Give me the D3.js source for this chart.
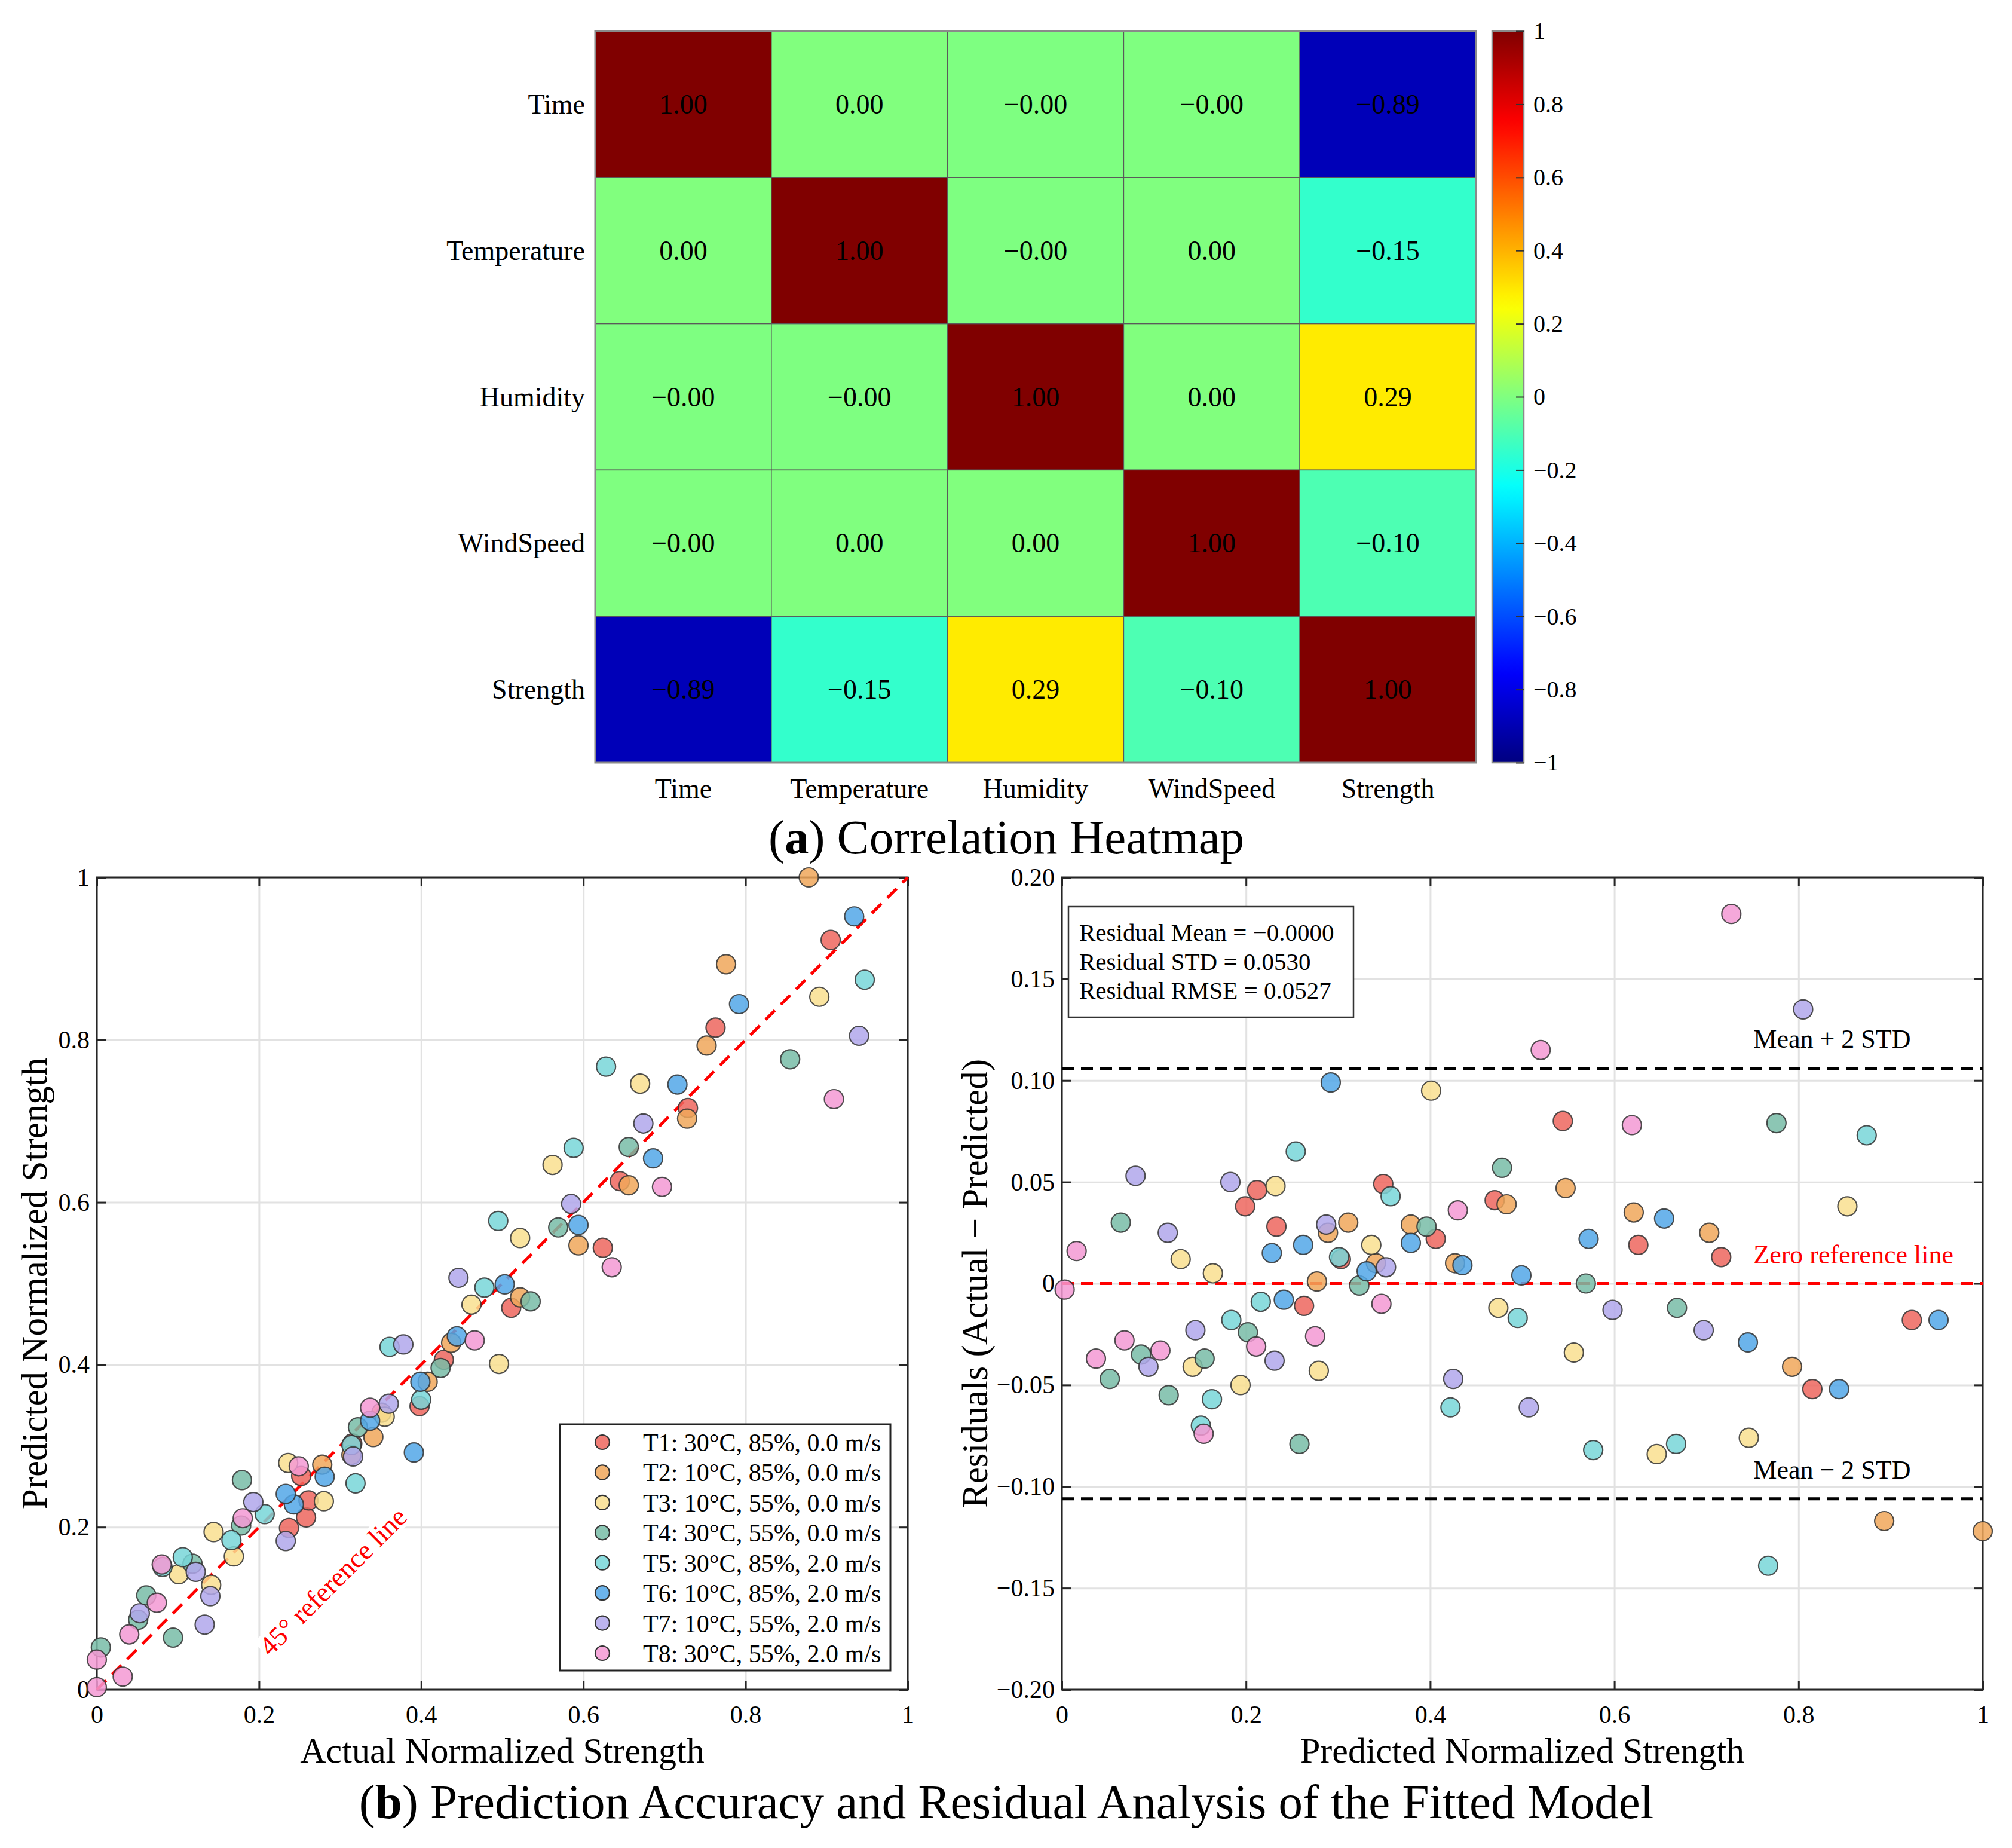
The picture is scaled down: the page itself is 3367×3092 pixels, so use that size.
<!DOCTYPE html>
<html>
<head>
<meta charset="utf-8">
<script src="https://cdn.jsdelivr.net/npm/d3@7"></script>
<style>
  body { margin: 0; background: #fff; }
  text { font-family: "Liberation Serif", "Times New Roman", serif; }
</style>
</head>
<body>
<svg id="chart" width="3367" height="3092"></svg>
<script>
const WIDTH = 3367
const HEIGHT = 3092
const FONT = '"Liberation Serif", "Times New Roman", serif'

// ---- (a) correlation heatmap ----
const variables = ['Time', 'Temperature', 'Humidity', 'WindSpeed', 'Strength']
const corrTime = [1, 0.002, -0.002, -0.001, -0.89]
const corrTemperature = [0.002, 1, -0.003, 0.001, -0.15]
const corrHumidity = [-0.002, -0.003, 1, 0.002, 0.29]
const corrWindSpeed = [-0.001, 0.001, 0.002, 1, -0.10]
const corrStrength = [-0.89, -0.15, 0.29, -0.10, 1]
const colorbarTicks = [1, 0.8, 0.6, 0.4, 0.2, 0, -0.2, -0.4, -0.6, -0.8, -1]

// ---- (b) test groups: actual vs predicted normalized strength ----
const groupLabels = [
    'T1: 30°C, 85%, 0.0 m/s', 'T2: 10°C, 85%, 0.0 m/s', 'T3: 10°C, 55%, 0.0 m/s', 'T4: 30°C, 55%, 0.0 m/s',
    'T5: 30°C, 85%, 2.0 m/s', 'T6: 10°C, 85%, 2.0 m/s', 'T7: 10°C, 55%, 2.0 m/s', 'T8: 30°C, 55%, 2.0 m/s'
]
const actualT1 = [0.624, 0.258, 0.398, 0.237, 0.511, 0.261, 0.428, 0.645, 0.315, 0.729, 0.252, 0.905, 0.763]
const predictedT1 = [0.544, 0.212, 0.349, 0.199, 0.470, 0.233, 0.406, 0.626, 0.303, 0.716, 0.263, 0.923, 0.815]
const actualT2 = [0.594, 0.522, 0.656, 0.341, 0.314, 0.408, 0.728, 0.351, 0.437, 0.278, 0.752, 0.776, 0.878]
const predictedT2 = [0.547, 0.483, 0.621, 0.311, 0.289, 0.379, 0.703, 0.341, 0.427, 0.277, 0.793, 0.893, 1.000]
const actualT3 = [0.496, 0.280, 0.891, 0.355, 0.141, 0.169, 0.462, 0.522, 0.101, 0.236, 0.144, 0.670, 0.562]
const predictedT3 = [0.401, 0.232, 0.853, 0.336, 0.129, 0.164, 0.474, 0.556, 0.142, 0.279, 0.194, 0.746, 0.646]
const actualT4 = [0.855, 0.535, 0.094, 0.424, 0.322, 0.569, 0.656, 0.178, 0.051, 0.118, 0.005, 0.061, 0.179]
const predictedT4 = [0.776, 0.478, 0.064, 0.396, 0.323, 0.569, 0.668, 0.202, 0.086, 0.155, 0.052, 0.116, 0.258]
const actualT5 = [0.947, 0.319, 0.400, 0.314, 0.478, 0.166, 0.207, 0.106, 0.361, 0.081, 0.588, 0.495, 0.628]
const predictedT5 = [0.874, 0.254, 0.357, 0.301, 0.495, 0.184, 0.216, 0.163, 0.422, 0.151, 0.667, 0.577, 0.767]
const actualT6 = [0.391, 0.686, 0.594, 0.399, 0.281, 0.243, 0.444, 0.337, 0.503, 0.934, 0.233, 0.716, 0.792]
const predictedT6 = [0.292, 0.654, 0.572, 0.379, 0.262, 0.228, 0.435, 0.331, 0.499, 0.952, 0.241, 0.745, 0.844]
const actualT7 = [0.940, 0.133, 0.233, 0.316, 0.140, 0.360, 0.585, 0.122, 0.674, 0.193, 0.053, 0.378, 0.446]
const predictedT7 = [0.805, 0.080, 0.183, 0.287, 0.115, 0.352, 0.598, 0.145, 0.697, 0.231, 0.094, 0.425, 0.507]
const actualT8 = [0.909, 0.635, 0.697, 0.466, 0.032, 0.000, 0.337, 0.249, 0.040, 0.180, 0.074, 0.000, 0.080]
const predictedT8 = [0.727, 0.520, 0.619, 0.430, 0.016, 0.003, 0.347, 0.275, 0.068, 0.211, 0.107, 0.037, 0.154]

const residMean = -0.00001
const residStd = 0.0530
const residRmse = 0.0527

const unitTicks = [0, 0.2, 0.4, 0.6, 0.8, 1]
const residTicks = [-0.2, -0.15, -0.1, -0.05, 0, 0.05, 0.1, 0.15, 0.2]

const groupColors = ['#ed665e', '#f0a75a', '#f9df8f', '#78bca7', '#78d6d8', '#52a7e7', '#b0a7eb', '#f399d4']

const signed = (v, n) => (v < 0 ? '\u2212' : '') + Math.abs(v).toFixed(n)

const svg = d3.select('#chart')
svg.append('rect').attr('width', WIDTH).attr('height', HEIGHT).attr('fill', '#fff')

// MATLAB jet
function jet(t) {
    const c = v => Math.round(255 * Math.max(0, Math.min(1, v)))
    return `rgb(${c(1.5 - Math.abs(4 * t - 3))},${c(1.5 - Math.abs(4 * t - 2))},${c(1.5 - Math.abs(4 * t - 1))})`
}

function drawHeatmap() {
    const rows = [corrTime, corrTemperature, corrHumidity, corrWindSpeed, corrStrength]
    const cells = []
    rows.forEach((row, i) => row.forEach((v, j) => cells.push({ r: variables[i], c: variables[j], v })))

    const x = d3.scaleBand().domain(variables).range([996, 2470])
    const y = d3.scaleBand().domain(variables).range([52, 1276])
    const color = d3.scaleSequential(jet).domain([-1, 1])

    const g = svg.append('g')
    g.selectAll('rect.cell')
        .data(cells)
        .join('rect')
        .attr('class', 'cell')
        .attr('x', d => x(d.c))
        .attr('y', d => y(d.r))
        .attr('width', x.bandwidth())
        .attr('height', y.bandwidth())
        .attr('fill', d => color(d.v))
        .attr('stroke', '#5a5a5a')
        .attr('stroke-width', 1.5)

    g.selectAll('text.val')
        .data(cells)
        .join('text')
        .attr('class', 'val')
        .attr('x', d => x(d.c) + x.bandwidth() / 2)
        .attr('y', d => y(d.r) + y.bandwidth() / 2)
        .attr('text-anchor', 'middle')
        .attr('dominant-baseline', 'central')
        .attr('font-size', 46)
        .text(d => signed(d.v, 2))

    g.append('rect')
        .attr('x', 996).attr('y', 52)
        .attr('width', 2470 - 996).attr('height', 1276 - 52)
        .attr('fill', 'none').attr('stroke', '#8a8a8a').attr('stroke-width', 3)

    g.selectAll('text.row')
        .data(variables)
        .join('text')
        .attr('class', 'row')
        .attr('x', 979)
        .attr('y', d => y(d) + y.bandwidth() / 2)
        .attr('text-anchor', 'end')
        .attr('dominant-baseline', 'central')
        .attr('font-size', 46)
        .text(d => d)

    g.selectAll('text.col')
        .data(variables)
        .join('text')
        .attr('class', 'col')
        .attr('x', d => x(d) + x.bandwidth() / 2)
        .attr('y', 1335)
        .attr('text-anchor', 'middle')
        .attr('font-size', 46)
        .text(d => d)

    // colorbar
    const cb = d3.scaleLinear().domain([-1, 1]).range([1276, 52])
    const grad = svg.append('defs').append('linearGradient')
        .attr('id', 'jet').attr('x1', 0).attr('y1', 1).attr('x2', 0).attr('y2', 0)
    grad.selectAll('stop')
        .data(d3.range(0, 1.0001, 0.02))
        .join('stop')
        .attr('offset', d => d)
        .attr('stop-color', d => jet(d))

    g.append('rect')
        .attr('x', 2497).attr('y', 52)
        .attr('width', 53).attr('height', 1276 - 52)
        .attr('fill', 'url(#jet)')
        .attr('stroke', '#8a8a8a').attr('stroke-width', 2.5)

    const cbAxis = g.append('g')
        .attr('transform', 'translate(2550,0)')
        .call(d3.axisRight(cb).tickValues(colorbarTicks).tickSizeInner(-13).tickSizeOuter(0).tickPadding(16)
            .tickFormat(d => d === 0 ? '0' : d3.format('~g')(d).replace('-', '\u2212')))
    cbAxis.select('.domain').remove()
    cbAxis.selectAll('line').attr('stroke', '#333').attr('stroke-width', 2)
    cbAxis.attr('font-family', FONT).attr('font-size', 40)
    cbAxis.selectAll('text').attr('fill', '#000')

    svg.append('text')
        .attr('x', 1684).attr('y', 1428)
        .attr('text-anchor', 'middle')
        .attr('font-size', 81)
        .call(t => {
            t.append('tspan').text('(')
            t.append('tspan').attr('font-weight', 'bold').text('a')
            t.append('tspan').text(') Correlation Heatmap')
        })
}

function frame(x, y, xTicks, yTicks, xFmt, yFmt) {
    const [x0, x1] = x.range()
    const [y0, y1] = y.range()
    const g = svg.append('g')

    const grid = g.append('g')
    grid.append('g').attr('transform', `translate(0,${y0})`)
        .call(d3.axisBottom(x).tickValues(xTicks).tickSize(-(y0 - y1)).tickFormat(''))
    grid.append('g').attr('transform', `translate(${x0},0)`)
        .call(d3.axisLeft(y).tickValues(yTicks).tickSize(-(x1 - x0)).tickFormat(''))
    grid.selectAll('.domain').remove()
    grid.selectAll('line').attr('stroke', '#e2e2e2').attr('stroke-width', 3)

    const axes = [
        g.append('g').attr('transform', `translate(0,${y0})`)
            .call(d3.axisBottom(x).tickValues(xTicks).tickSizeInner(-15).tickSizeOuter(0).tickPadding(26).tickFormat(xFmt)),
        g.append('g').attr('transform', `translate(0,${y1})`)
            .call(d3.axisTop(x).tickValues(xTicks).tickSizeInner(-15).tickSizeOuter(0).tickFormat('')),
        g.append('g').attr('transform', `translate(${x0},0)`)
            .call(d3.axisLeft(y).tickValues(yTicks).tickSizeInner(-15).tickSizeOuter(0).tickPadding(12).tickFormat(yFmt)),
        g.append('g').attr('transform', `translate(${x1},0)`)
            .call(d3.axisRight(y).tickValues(yTicks).tickSizeInner(-15).tickSizeOuter(0).tickFormat(''))
    ]
    axes.forEach(a => {
        a.select('.domain').remove()
        a.selectAll('line').attr('stroke', '#262626').attr('stroke-width', 3)
        a.attr('font-family', FONT).attr('font-size', 42)
        a.selectAll('text').attr('fill', '#000')
    })

    g.append('rect')
        .attr('x', x0).attr('y', y1)
        .attr('width', x1 - x0).attr('height', y0 - y1)
        .attr('fill', 'none').attr('stroke', '#262626').attr('stroke-width', 3)
    return g
}

const unitFmt = d => (d === 0 || d === 1) ? String(d) : d.toFixed(1)
const residFmt = d => Math.abs(d) < 1e-9 ? '0' : signed(d, 2)

function drawMarkers(points, r) {
    svg.append('g').selectAll('circle')
        .data(points)
        .join('circle')
        .attr('cx', d => d.cx)
        .attr('cy', d => d.cy)
        .attr('r', r)
        .attr('fill', d => d.color)
        .attr('fill-opacity', 0.85)
        .attr('stroke', '#333')
        .attr('stroke-opacity', 0.85)
        .attr('stroke-width', 2.2)
}

const series = [
    [actualT1, predictedT1], [actualT2, predictedT2], [actualT3, predictedT3], [actualT4, predictedT4],
    [actualT5, predictedT5], [actualT6, predictedT6], [actualT7, predictedT7], [actualT8, predictedT8]
].map(([actual, predicted], i) => ({ label: groupLabels[i], color: groupColors[i], actual, predicted }))

function drawScatter() {
    const x = d3.scaleLinear().domain([0, 1]).range([162, 1519])
    const y = d3.scaleLinear().domain([0, 1]).range([2827, 1468])
    frame(x, y, unitTicks, unitTicks, unitFmt, unitFmt)

    svg.append('line')
        .attr('x1', x(0)).attr('y1', y(0)).attr('x2', x(1)).attr('y2', y(1))
        .attr('stroke', '#ff0000').attr('stroke-width', 5).attr('stroke-dasharray', '22,14')

    const pts = []
    series.forEach(s => s.actual.forEach((a, k) => pts.push({ cx: x(a), cy: y(s.predicted[k]), color: s.color })))
    drawMarkers(pts, 16)

    // rotated reference label with white background
    const lab = svg.append('g').attr('transform', 'translate(557,2646) rotate(-45)')
    const bg = lab.append('rect').attr('fill', '#fff')
    const t = lab.append('text')
        .attr('text-anchor', 'middle')
        .attr('dominant-baseline', 'central')
        .attr('font-size', 46)
        .attr('fill', '#ff0000')
        .text('45° reference line')
    const bb = t.node().getBBox()
    bg.attr('x', bb.x - 2).attr('y', bb.y + 4).attr('width', bb.width + 4).attr('height', bb.height - 8)

    // legend
    const lg = svg.append('g')
    lg.append('rect')
        .attr('x', 937).attr('y', 2383).attr('width', 1490 - 937).attr('height', 2795 - 2383)
        .attr('fill', '#fff').attr('stroke', '#222').attr('stroke-width', 3)
    const ly = d3.scalePoint().domain(groupLabels).range([2413, 2766])
    lg.selectAll('circle')
        .data(series)
        .join('circle')
        .attr('cx', 1008).attr('cy', d => ly(d.label)).attr('r', 12)
        .attr('fill', d => d.color).attr('fill-opacity', 0.85)
        .attr('stroke', '#333').attr('stroke-width', 2.2)
    lg.selectAll('text')
        .data(series)
        .join('text')
        .attr('x', 1076).attr('y', d => ly(d.label) + 15)
        .attr('font-size', 42)
        .text(d => d.label)

    svg.append('text')
        .attr('x', (x(0) + x(1)) / 2).attr('y', 2949)
        .attr('text-anchor', 'middle').attr('font-size', 60)
        .text('Actual Normalized Strength')
    svg.append('text')
        .attr('transform', `translate(78,${(y(0) + y(1)) / 2}) rotate(-90)`)
        .attr('text-anchor', 'middle').attr('font-size', 61)
        .text('Predicted Normalized Strength')
}

function drawResiduals() {
    const x = d3.scaleLinear().domain([0, 1]).range([1777, 3318])
    const y = d3.scaleLinear().domain([-0.2, 0.2]).range([2827, 1468])
    frame(x, y, unitTicks, residTicks, unitFmt, residFmt)

    const upper = residMean + 2 * residStd
    const lower = residMean - 2 * residStd

    svg.append('g').selectAll('line')
        .data([upper, lower])
        .join('line')
        .attr('x1', x(0)).attr('x2', x(1))
        .attr('y1', d => y(d)).attr('y2', d => y(d))
        .attr('stroke', '#000').attr('stroke-width', 5).attr('stroke-dasharray', '20,12')

    svg.append('line')
        .attr('x1', x(0)).attr('x2', x(1)).attr('y1', y(0)).attr('y2', y(0))
        .attr('stroke', '#ff0000').attr('stroke-width', 5).attr('stroke-dasharray', '20,12')

    const pts = []
    series.forEach(s => s.predicted.forEach((p, k) => pts.push({ cx: x(p), cy: y(s.actual[k] - p), color: s.color })))
    drawMarkers(pts, 16)

    const notes = [
        { text: 'Mean + 2 STD', v: upper, fill: '#000' },
        { text: 'Zero reference line', v: 0, fill: '#ff0000' },
        { text: 'Mean \u2212 2 STD', v: lower, fill: '#000' }
    ]
    svg.append('g').selectAll('text')
        .data(notes)
        .join('text')
        .attr('x', x(0.751))
        .attr('y', d => y(d.v) - 34)
        .attr('font-size', 44)
        .attr('fill', d => d.fill)
        .text(d => d.text)

    // stats box
    const sb = svg.append('g')
    sb.append('rect')
        .attr('x', 1788).attr('y', 1517).attr('width', 2265 - 1788).attr('height', 1702 - 1517)
        .attr('fill', '#fff').attr('stroke', '#333').attr('stroke-width', 2.5)
    sb.selectAll('text')
        .data([
            `Residual Mean = ${signed(residMean, 4)}`,
            `Residual STD = ${residStd.toFixed(4)}`,
            `Residual RMSE = ${residRmse.toFixed(4)}`
        ])
        .join('text')
        .attr('x', 1806)
        .attr('y', (d, i) => 1574 + i * 48.5)
        .attr('font-size', 41)
        .text(d => d)

    svg.append('text')
        .attr('x', (x(0) + x(1)) / 2).attr('y', 2949)
        .attr('text-anchor', 'middle').attr('font-size', 60)
        .text('Predicted Normalized Strength')
    svg.append('text')
        .attr('transform', `translate(1652,${(y(-0.2) + y(0.2)) / 2}) rotate(-90)`)
        .attr('text-anchor', 'middle').attr('font-size', 61)
        .text('Residuals (Actual \u2212 Predicted)')

    svg.append('text')
        .attr('x', 1684).attr('y', 3042)
        .attr('text-anchor', 'middle')
        .attr('font-size', 81)
        .call(t => {
            t.append('tspan').text('(')
            t.append('tspan').attr('font-weight', 'bold').text('b')
            t.append('tspan').text(') Prediction Accuracy and Residual Analysis of the Fitted Model')
        })
}

drawHeatmap()
drawScatter()
drawResiduals()
</script>
</body>
</html>
